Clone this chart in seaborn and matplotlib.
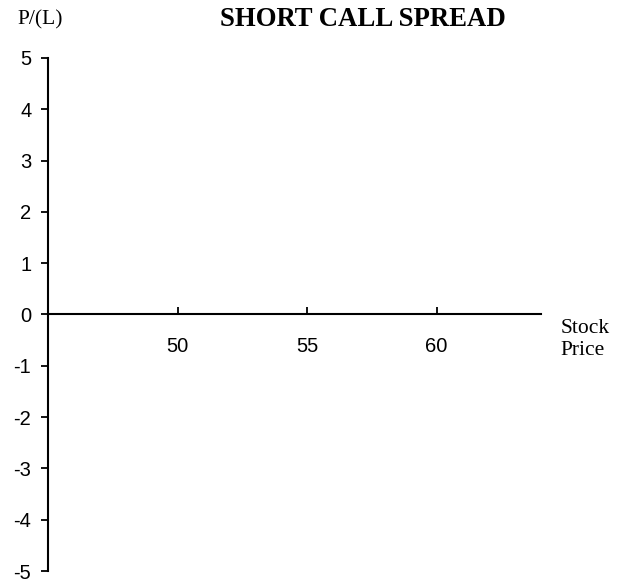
import matplotlib
matplotlib.use("Agg")
import matplotlib.pyplot as plt
import seaborn as sns

# axis ranges / ticks
x_ticks = [50, 55, 60]
y_ticks = [-5, -4, -3, -2, -1, 0, 1, 2, 3, 4, 5]
x_range = [45, 64.03]
title = "SHORT CALL SPREAD"

sns.set_style("ticks")
plt.rcParams['font.family'] = ['Liberation Sans', 'DejaVu Sans']

fig = plt.figure(figsize=(6.21, 5.81), dpi=100)
ax = fig.add_axes([0.0773, 0.0172, 0.794, 0.883])

ax.set_xlim(x_range)
ax.set_ylim(min(y_ticks), max(y_ticks))
ax.set_xticks(x_ticks)
ax.set_yticks(y_ticks)
ax.set_yticklabels([str(v) for v in y_ticks])

sns.despine(ax=ax)
ax.spines['bottom'].set_position(('data', 0))
ax.spines['bottom'].set_linewidth(1.5)
ax.spines['left'].set_linewidth(1.5)
ax.spines['bottom'].set_color('black')
ax.spines['left'].set_color('black')

ax.tick_params(axis='x', direction='in', length=5, width=1.3, pad=16,
               labelsize=14.5, colors='black')
ax.tick_params(axis='y', direction='out', length=5, width=1.3, pad=7,
               labelsize=14.5, colors='black')

fig.text(0.585, 0.966, title, ha='center', va='center', fontsize=19.3,
         fontweight='bold', family='Liberation Serif', color='black')
fig.text(0.064, 0.966, "P/(L)", ha='center', va='center', fontsize=15.5,
         family='Liberation Serif', color='black')
fig.text(0.902, 0.415, "Stock\nPrice", ha='left', va='center', fontsize=15.5,
         family='Liberation Serif', color='black', linespacing=1.2)

fig.savefig("out.png", dpi=100)
